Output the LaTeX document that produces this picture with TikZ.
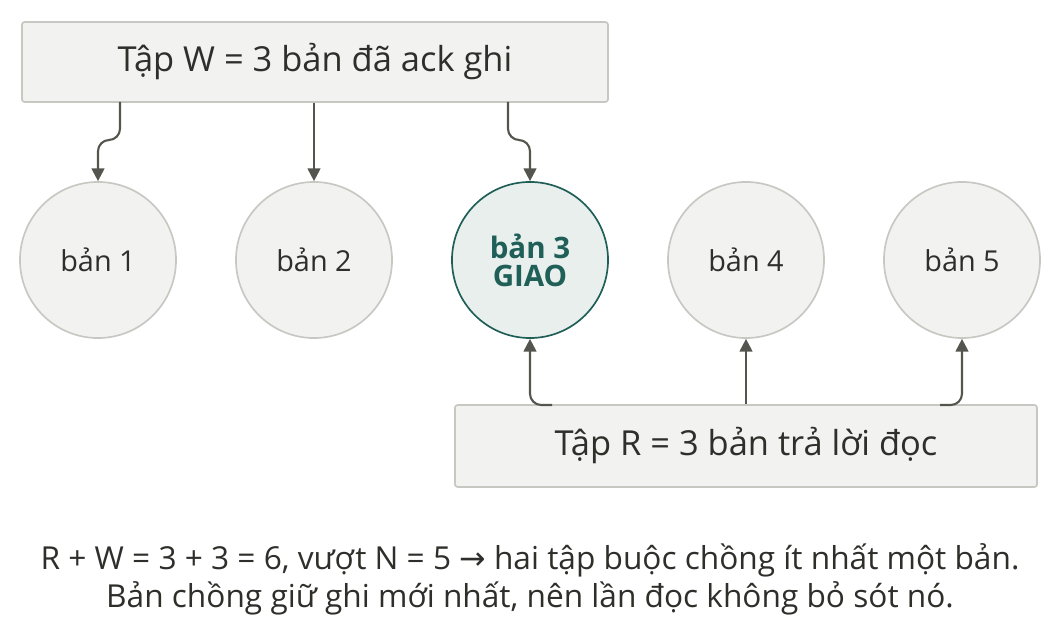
\documentclass[tikz,border=0pt]{standalone}
\usepackage{fontspec}
\setmainfont{Open Sans}
\newfontfamily\symfont{DejaVu Sans}
\usetikzlibrary{positioning,arrows.meta}
\definecolor{boxfill}{HTML}{F2F2F0}
\definecolor{boxline}{HTML}{C8C8C3}
\definecolor{arrcol}{HTML}{55554F}
\definecolor{textcol}{HTML}{2E2E2A}
\definecolor{teal}{HTML}{1F5F58}
\definecolor{tealfill}{HTML}{E8EFED}
\begin{document}
\begin{tikzpicture}[x=0.025cm,y=-0.025cm,
		box_style/.style={draw=boxline,fill=boxfill,line width=1.2pt,rounded corners=2pt,text=textcol,font=\fontsize{24.5}{28}\selectfont},
		node_style/.style={circle,draw=boxline,fill=boxfill,line width=1.2pt,minimum size=3.9cm,text=textcol,font=\fontsize{20.5}{24}\selectfont},
		hot_style/.style={node_style,draw=teal,fill=tealfill,text=teal,font=\fontsize{21}{24}\selectfont\bfseries,align=center},
		edge_style/.style={draw=arrcol,line width=1.5pt,rounded corners=8pt,-{Triangle[length=9pt,width=9pt]}}]
		\useasboundingbox (0,0) rectangle (1052,635);

		\node[box_style,minimum width=14.65cm,minimum height=2cm] (w) at (315,62) {Tập W = 3 bản đã ack ghi};
		\node[node_style] (n1) at (98,260) {bản 1};
		\node[node_style] (n2) at (314,260) {bản 2};
		\node[hot_style] (n3) at (530,260) {bản 3\\[-4pt]GIAO};
		\node[node_style] (n4) at (746,260) {bản 4};
		\node[node_style] (n5) at (962,260) {bản 5};
		\node[box_style,minimum width=14.55cm,minimum height=2.05cm] (r) at (746,446) {Tập R = 3 bản trả lời đọc};

		\coordinate (w1) at (120,102);
		\coordinate (w3) at (508,102);
		\coordinate (r3) at (552,405);
		\coordinate (r5) at (940,405);

		\draw[edge_style] (w1) -- ++(0,38) -| (n1.north);
		\draw[edge_style] (w.south -| n2) -- (n2.north);
		\draw[edge_style] (w3) -- ++(0,38) -| (n3.north);
		\draw[edge_style] (r3) -| (n3.south);
		\draw[edge_style] (r.north) -- (n4.south);
		\draw[edge_style] (r5) -| (n5.south);

		\node[align=center,text=textcol,font=\fontsize{22.5}{27}\selectfont] (cap) at (530,579)
			{R + W = 3 + 3 = 6, vượt N = 5 {\symfont →} hai tập buộc chồng ít nhất một bản.\\
			Bản chồng giữ ghi mới nhất, nên lần đọc không bỏ sót nó.};
\end{tikzpicture}
\end{document}
